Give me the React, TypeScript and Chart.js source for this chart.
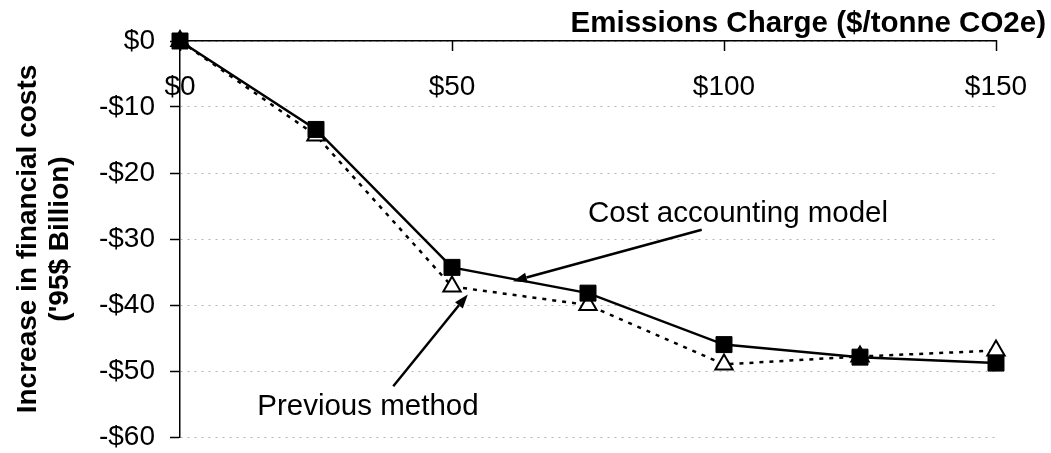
import React, { useEffect, useRef } from 'react';
import { Chart, registerables } from 'chart.js';

Chart.register(...registerables);

// ---- data ----
const charges = [0, 25, 50, 75, 100, 125, 150];
const costModel = [0, -13.4, -34.3, -38.2, -46.0, -47.9, -48.8];
const previousMethod = [0, -14.3, -37.2, -40.0, -49.0, -47.8, -46.9];
const xTickValues = [0, 50, 100, 150];
const yTickValues = [0, -10, -20, -30, -40, -50, -60];
const xTitle = 'Emissions Charge ($/tonne CO2e)';
const yTitle = ['Increase in financial costs', "('95$ Billion)"];
const annotationLabels = ['Cost accounting model', 'Previous method'];
const annotationLabelAt = [[75.0, -27.4], [14.2, -56.7]];
const annotationFrom = [[95.9, -28.6], [39.2, -52.3]];
const annotationTo = [[61.2, -36.4], [52.9, -38.4]];

const FONT = '"Liberation Sans", Arial, Helvetica, sans-serif';
const money = (v: number) => (v < 0 ? '-$' + Math.abs(v) : '$' + v);

const overlayPlugin = {
  id: 'overlay',
  afterDraw(chart: any) {
    const { ctx, chartArea } = chart;
    const xs = chart.scales.x;
    const ys = chart.scales.y;
    ctx.save();
    ctx.fillStyle = '#000';
    ctx.strokeStyle = '#000';
    // x tick labels (drawn inside plot, below the top axis)
    ctx.font = '28px ' + FONT;
    ctx.textAlign = 'center';
    ctx.textBaseline = 'middle';
    xs.ticks.forEach((t: any) => {
      ctx.fillText(money(t.value), xs.getPixelForValue(t.value), chartArea.top + 46);
    });
    // x axis title, top right
    ctx.font = 'bold 29.5px ' + FONT;
    ctx.textAlign = 'right';
    ctx.textBaseline = 'alphabetic';
    ctx.fillText(xTitle, chart.width - 5, chartArea.top - 9);
    // annotations
    ctx.font = '29.5px ' + FONT;
    ctx.textAlign = 'left';
    annotationLabels.forEach((label, i) => {
      const [lx, ly] = annotationLabelAt[i];
      ctx.fillText(label, xs.getPixelForValue(lx), ys.getPixelForValue(ly));
      const x1 = xs.getPixelForValue(annotationFrom[i][0]);
      const y1 = ys.getPixelForValue(annotationFrom[i][1]);
      const x2 = xs.getPixelForValue(annotationTo[i][0]);
      const y2 = ys.getPixelForValue(annotationTo[i][1]);
      const ang = Math.atan2(y2 - y1, x2 - x1);
      const headLen = 14;
      const headW = 5;
      const bx = x2 - headLen * Math.cos(ang);
      const by = y2 - headLen * Math.sin(ang);
      ctx.lineWidth = 2.5;
      ctx.beginPath();
      ctx.moveTo(x1, y1);
      ctx.lineTo(bx, by);
      ctx.stroke();
      ctx.beginPath();
      ctx.moveTo(x2, y2);
      ctx.lineTo(bx + headW * Math.sin(ang), by - headW * Math.cos(ang));
      ctx.lineTo(bx - headW * Math.sin(ang), by + headW * Math.cos(ang));
      ctx.closePath();
      ctx.fill();
    });
    ctx.restore();
  },
};

export default function App() {
  const canvasRef = useRef<HTMLCanvasElement | null>(null);

  useEffect(() => {
    const canvas = canvasRef.current;
    if (!canvas) return;
    const chart = new Chart(canvas, {
      type: 'line',
      data: {
        datasets: [
          {
            label: 'Cost accounting model',
            data: charges.map((c, i) => ({ x: c, y: costModel[i] })),
            borderColor: '#000',
            backgroundColor: '#000',
            borderWidth: 2.5,
            pointStyle: 'rect',
            pointRadius: 11.3,
            pointBorderWidth: 1,
            pointBackgroundColor: '#000',
            pointBorderColor: '#000',
            tension: 0,
            clip: false,
          },
          {
            label: 'Previous method',
            data: charges.map((c, i) => ({ x: c, y: previousMethod[i] })),
            borderColor: '#000',
            backgroundColor: '#fff',
            borderWidth: 2.5,
            borderDash: [4, 6],
            pointStyle: 'triangle',
            pointRadius: 10,
            pointBorderWidth: 2,
            pointBackgroundColor: '#fff',
            pointBorderColor: '#000',
            tension: 0,
            clip: false,
          },
        ],
      },
      options: {
        responsive: false,
        animation: false,
        layout: { padding: { left: 0, right: 55, top: 0, bottom: 16 } },
        plugins: {
          legend: { display: false },
          tooltip: { enabled: false },
          title: { display: false },
        },
        scales: {
          x: {
            type: 'linear',
            position: 'top',
            min: 0,
            max: 150,
            afterBuildTicks: (scale: any) => {
              scale.ticks = xTickValues.map((v) => ({ value: v }));
            },
            afterFit: (scale: any) => {
              scale.height = 41;
              scale.paddingLeft = 0;
              scale.paddingRight = 0;
            },
            ticks: { display: false },
            grid: {
              drawOnChartArea: false,
              drawTicks: true,
              tickLength: -10,
              tickColor: '#000',
              tickWidth: 1.5,
            },
            border: { display: true, color: '#000', width: 1.5 },
          },
          y: {
            type: 'linear',
            position: 'left',
            min: -60,
            max: 0,
            afterBuildTicks: (scale: any) => {
              scale.ticks = yTickValues.map((v) => ({ value: v }));
            },
            afterFit: (scale: any) => {
              scale.width = 180;
              scale.paddingTop = 0;
              scale.paddingBottom = 0;
            },
            ticks: {
              color: '#000',
              padding: 15,
              font: { family: FONT, size: 28 },
              callback: (v: any) => money(Number(v)),
            },
            grid: {
              color: '#b4b4b4',
              lineWidth: 1,
              drawTicks: true,
              tickLength: 10,
              tickColor: '#000',
              tickWidth: 1.5,
              tickBorderDash: [],
            },
            border: { display: true, color: '#000', width: 1.5, dash: [2, 5] },
            title: {
              display: true,
              text: yTitle,
              color: '#000',
              font: { family: FONT, size: 28, weight: 'bold', lineHeight: 32 / 28 },
              padding: { top: 12, bottom: 0 },
            },
          },
        },
      },
      plugins: [overlayPlugin],
    } as any);
    return () => chart.destroy();
  }, []);

  return (
    <div style={{ position: 'absolute', left: 0, top: 0, width: 1051, height: 453, background: '#fff' }}>
      <canvas ref={canvasRef} width={1051} height={453} />
    </div>
  );
}
